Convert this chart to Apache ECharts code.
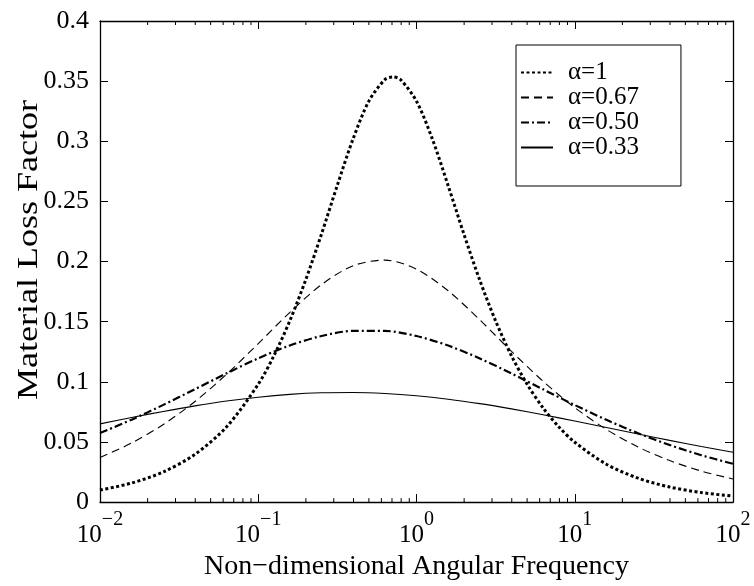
<!DOCTYPE html>
<html>
<head>
<meta charset="utf-8">
<script src="https://cdn.jsdelivr.net/npm/echarts@6/dist/echarts.min.js"></script>
<style>
html,body{margin:0;padding:0;background:#fff;}
#chart{width:754px;height:586px;}
</style>
</head>
<body>
<div id="chart"></div>
<script>
// Non-dimensional angular frequency sample points
const freqFine = [0.01, 0.01585, 0.02512, 0.03981, 0.0631, 0.1, 0.1259, 0.1585, 0.1995, 0.2512, 0.3162, 0.3981, 0.5012, 0.631, 0.7079, 0.7943, 1, 1.259, 1.585, 1.995, 2.512, 3.162, 3.981, 5.012, 6.31, 7.943, 10, 15.85, 25.12, 39.81, 63.1, 100];
const freqCoarse = [0.01, 0.01585, 0.02512, 0.03981, 0.0631, 0.1, 0.1585, 0.2512, 0.3981, 0.631, 1, 1.585, 2.512, 3.981, 6.31, 10, 15.85, 25.12, 39.81, 63.1, 100];

// Material loss factor values
const eta100 = [0.0100, 0.01584, 0.02509, 0.03968, 0.0626, 0.0980, 0.1220, 0.1509, 0.1848, 0.2230, 0.2635, 0.3023, 0.3336, 0.3513, 0.3535, 0.3511, 0.3333, 0.3019, 0.2631, 0.2226, 0.1844, 0.1506, 0.1217, 0.0978, 0.0783, 0.0624, 0.0498, 0.03148, 0.01989, 0.01255, 0.00792, 0.0050];
const eta067 = [0.03703, 0.04913, 0.06454, 0.08363, 0.10634, 0.13178, 0.15780, 0.18087, 0.19656, 0.20121, 0.19360, 0.17569, 0.15151, 0.12534, 0.10043, 0.07857, 0.06041, 0.04586, 0.03450, 0.02578, 0.01918];
const eta050 = [0.05739, 0.06854, 0.08083, 0.09388, 0.10706, 0.11952, 0.13024, 0.13813, 0.14233, 0.14231, 0.13807, 0.13014, 0.11940, 0.10693, 0.09374, 0.08070, 0.06842, 0.05728, 0.04746, 0.03899, 0.03182];
const eta033 = [0.06507, 0.07036, 0.07539, 0.08000, 0.08400, 0.08724, 0.08957, 0.09089, 0.09113, 0.09028, 0.08838, 0.08553, 0.08184, 0.07748, 0.07261, 0.06741, 0.06205, 0.05665, 0.05135, 0.04625, 0.04140];

const seriesNames = ['α=1', 'α=0.67', 'α=0.50', 'α=0.33'];
const xTickLabels = {0.01: '−2', 0.1: '−1', 1: '0', 10: '1', 100: '2'};
const xTitle = 'Non−dimensional Angular Frequency';
const yTitle = 'Material Loss Factor';

const minorTickValues = [];
[0.01, 0.1, 1, 10].forEach(function (d) {
  for (let m = 2; m <= 9; m++) minorTickValues.push(+(m * d).toPrecision(3));
});

function pairs(xs, ys) { return xs.map(function (x, i) { return [x, ys[i]]; }); }

const FONT = 'Liberation Serif';
const chart = echarts.init(document.getElementById('chart'), null, {renderer: 'canvas'});

const axisLine = {show: true, onZero: false, lineStyle: {color: '#000', width: 1.3}};
const majorTick = {show: true, inside: true, length: 8, lineStyle: {color: '#000', width: 1}};

chart.setOption({
  backgroundColor: '#fff',
  animation: false,
  grid: {left: 100, top: 21, right: 21, bottom: 80},
  graphic: [{
    type: 'text',
    x: 29, y: 250,
    rotation: Math.PI / 2,
    scaleX: 1.2,
    style: {text: yTitle, font: '30px "Liberation Serif"', fill: '#000', align: 'center', verticalAlign: 'middle'}
  }],
  legend: {
    orient: 'vertical',
    left: 516, top: 45,
    padding: [15, 42, 26, 4],
    itemGap: 0,
    itemWidth: 32, itemHeight: 25,
    borderColor: '#000', borderWidth: 1,
    backgroundColor: '#fff',
    itemStyle: {opacity: 0},
    data: seriesNames,
    textStyle: {fontFamily: FONT, fontSize: 25, color: '#000', lineHeight: 25, padding: [0, 0, 0, 10]}
  },
  xAxis: [{
    type: 'log', logBase: 10, min: 0.01, max: 100,
    position: 'bottom',
    axisLine: axisLine,
    axisTick: majorTick,
    splitLine: {show: false},
    axisLabel: {
      margin: 8,
      formatter: function (v) {
        const key = +v.toPrecision(3);
        return '{b|10}{s|' + (xTickLabels[key] || '') + '}';
      },
      rich: {
        b: {fontFamily: FONT, fontSize: 25, color: '#000', padding: [13, 0, 0, 0], verticalAlign: 'bottom'},
        s: {fontFamily: FONT, fontSize: 20, color: '#000', verticalAlign: 'top'}
      }
    },
    name: xTitle,
    nameLocation: 'middle', nameGap: 50,
    nameTextStyle: {fontFamily: FONT, fontSize: 28, color: '#000'}
  }, {
    type: 'log', logBase: 10, min: 0.01, max: 100,
    position: 'top',
    axisLine: axisLine,
    axisTick: majorTick,
    axisLabel: {show: false},
    splitLine: {show: false}
  }],
  yAxis: [{
    type: 'value', min: 0, max: 0.4, interval: 0.05,
    position: 'left',
    axisLine: axisLine,
    axisTick: majorTick,
    splitLine: {show: false},
    axisLabel: {margin: 11, fontFamily: FONT, fontSize: 26, color: '#000'}
  }, {
    type: 'value', min: 0, max: 0.4, interval: 0.05,
    position: 'right',
    axisLine: axisLine,
    axisTick: majorTick,
    axisLabel: {show: false},
    splitLine: {show: false}
  }],
  series: [{
    name: seriesNames[0], type: 'line', symbol: 'none', smooth: 0.3,
    data: pairs(freqFine, eta100),
    lineStyle: {color: '#000', width: 3, type: [3, 2.5], cap: 'butt'},
    itemStyle: {color: '#000'}
  }, {
    name: seriesNames[1], type: 'line', symbol: 'none', smooth: 0.3,
    data: pairs(freqCoarse, eta067),
    lineStyle: {color: '#000', width: 1.1, type: [8, 5]},
    itemStyle: {color: '#000'}
  }, {
    name: seriesNames[2], type: 'line', symbol: 'none', smooth: 0.3,
    data: pairs(freqCoarse, eta050),
    lineStyle: {color: '#000', width: 2.2, type: [8, 3, 2, 3]},
    itemStyle: {color: '#000'}
  }, {
    name: seriesNames[3], type: 'line', symbol: 'none', smooth: 0.3,
    data: pairs(freqCoarse, eta033),
    lineStyle: {color: '#000', width: 1.1, type: 'solid'},
    itemStyle: {color: '#000'}
  }, {
    name: 'minorTicks', type: 'custom', silent: true,
    data: minorTickValues.map(function (v) { return [v]; }),
    renderItem: function (params, api) {
      const b = api.coord([api.value(0), 0]);
      const t = api.coord([api.value(0), 0.4]);
      const st = {stroke: '#000', lineWidth: 1};
      return {type: 'group', children: [
        {type: 'line', shape: {x1: b[0], y1: b[1], x2: b[0], y2: b[1] - 4}, style: st},
        {type: 'line', shape: {x1: t[0], y1: t[1], x2: t[0], y2: t[1] + 4}, style: st}
      ]};
    },
    z: 5
  }]
});
</script>
</body>
</html>
